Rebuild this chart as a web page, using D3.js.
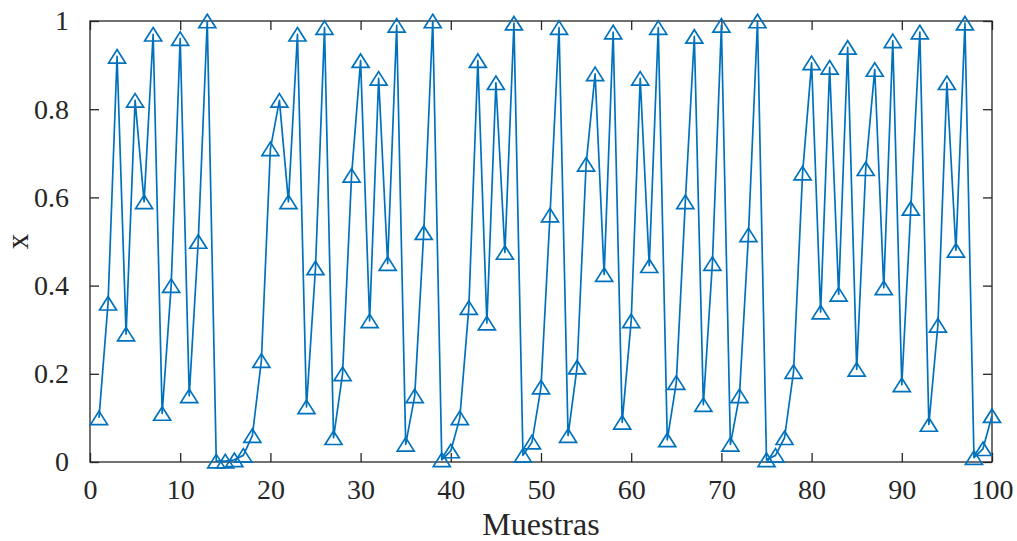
<!DOCTYPE html>
<html><head><meta charset="utf-8">
<script src="https://cdn.jsdelivr.net/npm/d3@7"></script>
<style>html,body{margin:0;padding:0;background:#fff;}svg{display:block;}</style>
</head><body>
<svg id="c" width="1017" height="541"></svg>
<script>
const samples = d3.range(1, 101);
const xValues = [
0.10,0.36,0.92,0.29,0.82,0.59,0.97,0.11,0.40,0.96,
0.15,0.50,1.00,0.002,0.002,0.005,0.015,0.06,0.23,0.71,
0.82,0.59,0.97,0.125,0.44,0.985,0.055,0.20,0.65,0.91,
0.32,0.87,0.45,0.99,0.04,0.15,0.52,1.00,0.005,0.025,
0.10,0.35,0.91,0.315,0.86,0.475,0.995,0.015,0.045,0.17,
0.56,0.985,0.06,0.215,0.675,0.88,0.425,0.975,0.09,0.32,
0.87,0.445,0.985,0.05,0.18,0.59,0.965,0.13,0.45,0.99,
0.04,0.15,0.515,1.00,0.005,0.015,0.055,0.205,0.655,0.905,
0.34,0.895,0.38,0.94,0.21,0.665,0.89,0.395,0.955,0.175,
0.575,0.975,0.085,0.31,0.86,0.48,0.995,0.01,0.03,0.105];
const xTicks = [0,10,20,30,40,50,60,70,80,90,100];
const yTicks = [0,0.2,0.4,0.6,0.8,1];
const xLabel = "Muestras";
const yLabel = "x";

const L = 90, R = 992, T = 21, B = 462;
const svg = d3.select("#c");
const x = d3.scaleLinear().domain([0,100]).range([L,R]);
const y = d3.scaleLinear().domain([0,1]).range([B,T]);
const axisColor = "#262626";
const font = "'Liberation Serif','Times New Roman',serif";
const tickLen = 9;

const fmt = d => String(+d.toFixed(1));
const gB = svg.append("g").attr("transform",`translate(0,${B})`)
  .call(d3.axisBottom(x).tickValues(xTicks).tickSize(-tickLen).tickPadding(tickLen+8).tickFormat(d=>d));
const gT = svg.append("g").attr("transform",`translate(0,${T})`)
  .call(d3.axisTop(x).tickValues(xTicks).tickSize(-tickLen).tickFormat(""));
const gL = svg.append("g").attr("transform",`translate(${L},0)`)
  .call(d3.axisLeft(y).tickValues(yTicks).tickSize(-tickLen).tickPadding(tickLen+12).tickFormat(fmt));
const gR = svg.append("g").attr("transform",`translate(${R},0)`)
  .call(d3.axisRight(y).tickValues(yTicks).tickSize(-tickLen).tickFormat(""));
[gB,gT,gL,gR].forEach(g=>{
  g.select(".domain").remove();
  g.selectAll(".tick line").attr("stroke",axisColor).attr("stroke-width",1.3);
  g.selectAll("text").attr("fill",axisColor).style("font-family",font).style("font-size","28px");
});
svg.append("rect").attr("x",L).attr("y",T).attr("width",R-L).attr("height",B-T)
  .attr("fill","none").attr("stroke",axisColor).attr("stroke-width",1.3);

svg.append("text").attr("x",(L+R)/2).attr("y",535).attr("text-anchor","middle")
  .attr("fill",axisColor).style("font-family",font).style("font-size","32px").text(xLabel);
svg.append("text").attr("transform",`translate(28,${(T+B)/2}) rotate(-90)`).attr("text-anchor","middle")
  .attr("fill",axisColor).style("font-family",font).style("font-size","31px").text(yLabel);

const color = "#0072BD";
const data = samples.map((s,i)=>({s, v:xValues[i]}));
svg.append("path").datum(data)
  .attr("d", d3.line().x(d=>x(d.s)).y(d=>y(d.v)))
  .attr("fill","none").attr("stroke",color).attr("stroke-width",1.7).attr("stroke-linejoin","round");
const w = 8.5, h = 13.5;
svg.append("g").selectAll("path").data(data).join("path")
  .attr("transform", d=>`translate(${x(d.s)},${y(d.v)})`)
  .attr("d", `M0,${-h/2}L${w},${h/2}L${-w},${h/2}Z`)
  .attr("fill","none").attr("stroke",color).attr("stroke-width",1.7);
</script>
</body></html>
